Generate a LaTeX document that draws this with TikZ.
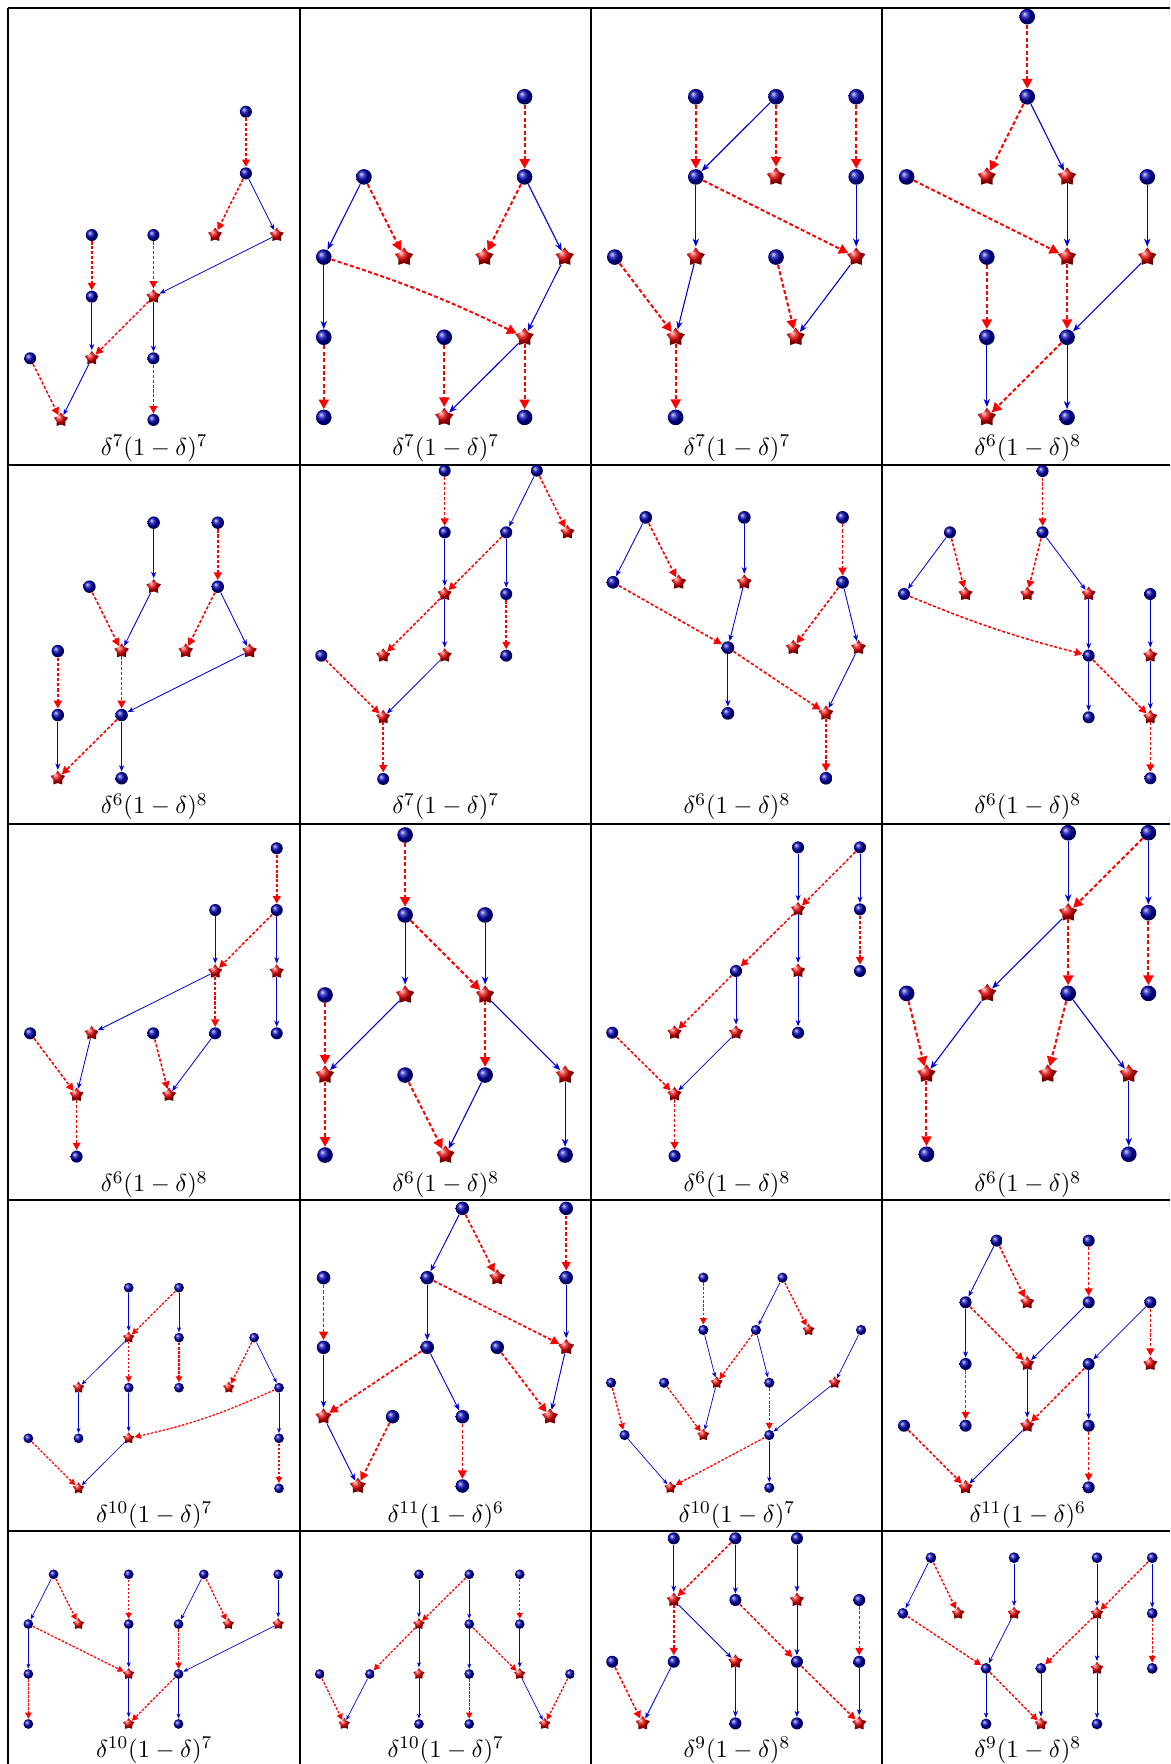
\documentclass[tikz,border=0pt]{standalone}
\usetikzlibrary{shapes.geometric,arrows.meta}
\tikzset{
  cell/.code={%
    \pgfmathsetlengthmacro\balld{0.39*#1*0.5pt}%
    \pgfmathsetlengthmacro\stard{0.48*#1*0.5pt}%
    \pgfmathsetlengthmacro\rlw{0.05*#1*0.5pt}%
    \pgfmathsetlengthmacro\blw{0.027*#1*0.5pt}%
    \pgfmathsetlengthmacro\don{0.10*#1*0.5pt}%
    \pgfmathsetlengthmacro\doff{0.06*#1*0.5pt}%
    \pgfmathsetlengthmacro\rtl{0.24*#1*0.5pt}%
    \pgfmathsetlengthmacro\rtw{0.25*#1*0.5pt}%
    \pgfmathsetlengthmacro\btl{0.2*#1*0.5pt}%
    \pgfmathsetlengthmacro\btw{0.16*#1*0.5pt}%
    \pgfmathsetlengthmacro\bti{0.06*#1*0.5pt}%
  },
  ball/.style={circle, inner sep=0pt, minimum size=\balld, ball color=blue!70!black},
  starn/.style={star, star points=5, star point ratio=1.6, inner sep=0pt, minimum size=\stard, ball color=red!90!black},
  rd/.style={draw=red, line width=\rlw, dash pattern=on \don off \doff, -{Triangle[length=\rtl, width=\rtw]}},
  bl/.style={draw=blue!85!black, line width=\blw, -{Stealth[length=\btl, width=\btw, inset=\bti]}},
  grid/.style={line width=0.9pt, black},
  lab/.style={anchor=base, inner sep=0pt, font=\fontsize{11}{13}\selectfont},
}
\newcommand\bnode[3]{\node[ball] (#1) at (#2,#3) {};}
\newcommand\snode[3]{\node[starn] (#1) at (#2,#3) {};}
\newcommand\redge[2]{\draw[rd] (#1) -- (#2);}
\newcommand\bedge[2]{\draw[bl] (#1) -- (#2);}
\newcommand\tlab[5]{\node[lab] (#1) at (#2,#3) {$\delta^{#4}(1-\delta)^{#5}$};}
\begin{document}
\begin{tikzpicture}[x=0.5pt,y=-0.5pt]
\useasboundingbox (0,0) rectangle (1040,1568);
% grid
\draw[grid] (7.4,7.1) -- (1040,7.1);
\draw[grid] (7.4,7.1) -- (7.4,1568);
\draw[grid] (266.8,7.1) -- (266.8,1568);
\draw[grid] (525.5,7.1) -- (525.5,1568);
\draw[grid] (784.4,7.1) -- (784.4,1568);
\draw[grid] (7.4,412.9) -- (1040,412.9);
\draw[grid] (7.4,732.4) -- (1040,732.4);
\draw[grid] (7.4,1066.7) -- (1040,1066.7);
\draw[grid] (7.4,1360.9) -- (1040,1360.9);
% labels
\tlab{t11}{137.1}{405}{7}{7}
\tlab{t12}{396.2}{405}{7}{7}
\tlab{t13}{655}{405}{7}{7}
\tlab{t14}{913.5}{405}{6}{8}
\tlab{t21}{137.1}{723.5}{6}{8}
\tlab{t22}{396.2}{723.5}{7}{7}
\tlab{t23}{655}{723.5}{6}{8}
\tlab{t24}{913.5}{723.5}{6}{8}
\tlab{t31}{137.1}{1059.5}{6}{8}
\tlab{t32}{396.2}{1059.5}{6}{8}
\tlab{t33}{655}{1059.5}{6}{8}
\tlab{t34}{913.5}{1059.5}{6}{8}
\tlab{t41}{137.1}{1353}{10}{7}
\tlab{t42}{396.2}{1353}{11}{6}
\tlab{t43}{655}{1353}{10}{7}
\tlab{t44}{913.5}{1353}{11}{6}
\tlab{t51}{137.1}{1562}{10}{7}
\tlab{t52}{396.2}{1562}{10}{7}
\tlab{t53}{655}{1562}{9}{8}
\tlab{t54}{913.5}{1562}{9}{8}
% cell 1,1
\begin{scope}[cell=27.4]
\bnode{a}{218.6}{99.3}\bnode{b}{218.6}{154.1}\snode{c}{191.2}{208.9}\snode{d}{246}{208.9}
\bnode{e}{81.6}{208.9}\bnode{f}{136.4}{208.9}\bnode{g}{81.6}{263.7}\snode{h}{136.4}{263.7}
\bnode{i}{26.8}{318.5}\snode{j}{81.6}{318.5}\bnode{k}{136.4}{318.5}\snode{l}{54.2}{373.3}
\bnode{m}{136.4}{373.3}
\redge{a}{b}\redge{b}{c}\bedge{b}{d}\bedge{d}{h}\redge{e}{g}\redge{f}{h}
\bedge{g}{j}\redge{h}{j}\bedge{h}{k}\redge{k}{m}\redge{i}{l}\bedge{j}{l}
\end{scope}
% cell 1,2
\begin{scope}[cell=35.55]
\bnode{a}{466.3}{86}\bnode{b}{323.5}{157.25}\bnode{c}{466.3}{157.25}\bnode{d}{287.8}{228.5}
\snode{e}{359.2}{228.5}\snode{f}{430.6}{228.5}\snode{g}{502}{228.5}\bnode{h}{287.8}{299.75}
\bnode{k}{394.9}{299.75}\snode{l}{466.3}{299.75}\bnode{m}{287.8}{371}\snode{n}{394.9}{371}
\bnode{o}{466.3}{371}
\redge{a}{c}\bedge{b}{d}\redge{b}{e}\redge{c}{f}\bedge{c}{g}\bedge{d}{h}
\draw[rd] (d) to[bend left=4] (l);
\bedge{g}{l}\redge{h}{m}\redge{k}{n}\bedge{l}{n}\redge{l}{o}
\end{scope}
% cell 1,3
\begin{scope}[cell=35.65]
\bnode{a}{618.5}{86}\bnode{b}{689.8}{86}\bnode{c}{761.1}{86}\bnode{d}{618.5}{157.25}
\snode{e}{689.8}{157.25}\bnode{f}{761.1}{157.25}\bnode{g}{546.5}{228.5}\snode{h}{618.5}{228.5}
\bnode{k}{689.8}{228.5}\snode{l}{761.1}{228.5}\snode{m}{600.6}{299.75}\snode{n}{707.4}{299.75}
\bnode{o}{600.6}{371}
\redge{a}{d}\bedge{b}{d}\redge{b}{e}\redge{c}{f}\bedge{d}{h}\redge{d}{l}
\bedge{f}{l}\redge{g}{m}\bedge{h}{m}\redge{k}{n}\bedge{l}{n}\redge{m}{o}
\end{scope}
% cell 1,4
\begin{scope}[cell=35.65]
\bnode{a}{913.1}{14.8}\bnode{b}{913.1}{86}\snode{c}{877.2}{157.25}\snode{d}{948.5}{157.25}
\bnode{e}{805.9}{157.25}\bnode{f}{1019.8}{157.25}\bnode{g}{877.2}{228.5}\snode{h}{948.5}{228.5}
\snode{k}{1019.8}{228.5}\bnode{l}{877.2}{299.75}\bnode{m}{948.5}{299.75}\snode{n}{877.2}{371}
\bnode{o}{948.5}{371}
\redge{a}{b}\redge{b}{c}\bedge{b}{d}\bedge{d}{h}\redge{e}{h}\bedge{f}{k}
\redge{g}{l}\redge{h}{m}\bedge{k}{m}\bedge{l}{n}\redge{m}{n}\bedge{m}{o}
\end{scope}
% cell 2,1
\begin{scope}[cell=28.4]
\bnode{a}{136.6}{464.6}\bnode{b}{193.6}{464.6}\bnode{c}{79.5}{521.5}\snode{d}{136.6}{521.5}
\bnode{e}{193.6}{521.5}\bnode{f}{51.4}{578.7}\snode{g}{108.1}{578.7}\snode{h}{165.1}{578.7}
\snode{k}{221.8}{578.7}\bnode{l}{51.4}{635.6}\bnode{m}{108.1}{635.6}\snode{n}{51.4}{691.8}
\bnode{o}{108.1}{691.8}
\bedge{a}{d}\redge{b}{e}\redge{c}{g}\bedge{d}{g}\redge{e}{h}\bedge{e}{k}
\redge{f}{l}\redge{g}{m}\bedge{k}{m}\bedge{l}{n}\redge{m}{n}\bedge{m}{o}
\end{scope}
% cell 2,2
\begin{scope}[cell=27.4]
\bnode{a}{395.3}{418.4}\bnode{b}{477.2}{418.4}\bnode{c}{395.3}{473.2}\bnode{d}{450}{473.2}
\snode{e}{504.4}{473.2}\snode{f}{395.3}{528}\bnode{g}{450}{528}\bnode{h}{285.6}{582.8}
\snode{k}{340.6}{582.8}\snode{l}{395.3}{582.8}\bnode{m}{450}{582.8}\snode{n}{340.6}{637.6}
\bnode{o}{340.6}{692.4}
\redge{a}{c}\bedge{b}{d}\redge{b}{e}\bedge{c}{f}\redge{d}{f}\bedge{d}{g}
\redge{f}{k}\bedge{f}{l}\redge{g}{m}\redge{h}{n}\bedge{l}{n}\redge{n}{o}
\end{scope}
% cell 2,3
\begin{scope}[cell=29]
\bnode{a}{574}{459.9}\bnode{b}{661.6}{459.9}\bnode{c}{748.9}{459.9}\bnode{d}{544.9}{517.6}
\snode{e}{603.3}{517.6}\snode{f}{661.6}{517.6}\bnode{g}{748.9}{517.6}\bnode{h}{647}{575.7}
\snode{k}{705.1}{575.7}\snode{l}{763.1}{575.7}\bnode{m}{647}{634.1}\snode{n}{734.2}{634.1}
\bnode{o}{734.2}{691.8}
\bedge{a}{d}\redge{a}{e}\bedge{b}{f}\redge{c}{g}\redge{d}{h}\bedge{f}{h}
\redge{g}{k}\bedge{g}{l}\bedge{h}{m}\redge{h}{n}\bedge{l}{n}\redge{n}{o}
\end{scope}
% cell 2,4
\begin{scope}[cell=27.4]
\bnode{a}{926.7}{418.7}\bnode{b}{844.4}{473.2}\bnode{c}{926.7}{473.2}\bnode{d}{803.6}{528}
\snode{e}{858.3}{528}\snode{f}{913.1}{528}\snode{g}{967.7}{528}\bnode{h}{1022.5}{528}
\bnode{k}{967.7}{582.8}\snode{l}{1022.5}{582.8}\bnode{m}{967.7}{637.6}\snode{n}{1022.5}{637.6}
\bnode{o}{1022.5}{691.8}
\redge{a}{c}\bedge{b}{d}\redge{b}{e}\redge{c}{f}\bedge{c}{g}
\draw[rd] (d) to[bend right=4] (k);
\bedge{g}{k}\bedge{h}{l}\bedge{k}{m}\redge{k}{n}\bedge{l}{n}\redge{n}{o}
\end{scope}
% cell 3,1
\begin{scope}[cell=27.4]
\bnode{a}{246}{754}\bnode{b}{191.3}{808.9}\bnode{c}{246}{808.9}\snode{d}{191.3}{863.7}
\snode{e}{246}{863.7}\bnode{f}{26.8}{918.5}\snode{g}{81.5}{918.5}\bnode{h}{136.2}{918.5}
\bnode{k}{191.3}{918.5}\bnode{l}{246}{918.5}\snode{m}{68.1}{973.3}\snode{n}{150.3}{973.3}
\bnode{o}{68.1}{1028.1}
\redge{a}{c}\bedge{b}{d}\redge{c}{d}\bedge{c}{e}\bedge{d}{g}\redge{d}{k}
\bedge{e}{l}\redge{f}{m}\bedge{g}{m}\redge{h}{n}\bedge{k}{n}\redge{m}{o}
\end{scope}
% cell 3,2
\begin{scope}[cell=35.6]
\bnode{a}{360.1}{742.2}\bnode{b}{360.1}{813.3}\bnode{c}{431.2}{813.3}\bnode{d}{288.9}{884.4}
\snode{e}{360.1}{884.4}\snode{f}{431.2}{884.4}\snode{g}{288.9}{955.6}\bnode{h}{360.1}{955.6}
\bnode{k}{431.2}{955.6}\snode{l}{502.3}{955.6}\bnode{m}{288.9}{1026.7}\snode{n}{396}{1026.7}
\bnode{o}{502.3}{1026.7}
\redge{a}{b}\bedge{b}{e}\redge{b}{f}\bedge{c}{f}\redge{d}{g}\bedge{e}{g}
\redge{f}{k}\bedge{f}{l}\redge{g}{m}\redge{h}{n}\bedge{k}{n}\bedge{l}{o}
\end{scope}
% cell 3,3
\begin{scope}[cell=27.5]
\bnode{a}{709.4}{753.2}\bnode{b}{764.4}{753.2}\snode{c}{709.4}{808.3}\bnode{d}{764.4}{808.3}
\bnode{e}{654.3}{863.1}\snode{f}{709.4}{863.1}\bnode{g}{764.4}{863.1}\bnode{h}{544.2}{918}
\snode{k}{599.6}{918}\snode{l}{654.3}{918}\bnode{m}{709.4}{918}\snode{n}{599.6}{972.7}
\bnode{o}{599.6}{1027.6}
\bedge{a}{c}\redge{b}{c}\bedge{b}{d}\redge{c}{e}\bedge{c}{f}\redge{d}{g}
\redge{e}{k}\bedge{e}{l}\bedge{f}{m}\redge{h}{n}\bedge{l}{n}\redge{n}{o}
\end{scope}
% cell 3,4
\begin{scope}[cell=35.7]
\bnode{a}{949.5}{740.2}\bnode{b}{1020.8}{740.2}\snode{c}{949.5}{811.3}\bnode{d}{1020.8}{811.3}
\bnode{e}{805.9}{883}\snode{f}{877.5}{883}\bnode{g}{949.5}{883}\bnode{h}{1020.8}{883}
\snode{k}{823.5}{954.7}\snode{l}{931.3}{954.7}\snode{m}{1003.3}{954.7}\bnode{n}{823.5}{1026}
\bnode{o}{1003.3}{1026}
\bedge{a}{c}\redge{b}{c}\bedge{b}{d}\bedge{c}{f}\redge{c}{g}\redge{d}{h}
\redge{e}{k}\bedge{f}{k}\redge{g}{l}\bedge{g}{m}\redge{k}{n}\bedge{m}{o}
\end{scope}
% cell 4,1
\begin{scope}[cell=22.3]
\bnode{a}{114.4}{1144.6}\bnode{b}{159.1}{1144.6}\snode{c}{114.4}{1189}\bnode{d}{159.1}{1189}
\bnode{e}{225.9}{1189}\snode{f}{69.8}{1233.5}\bnode{g}{114.4}{1233.5}\bnode{h}{159.1}{1233.5}
\snode{k}{203.4}{1233.5}\bnode{l}{248}{1233.5}\bnode{m}{25.2}{1278.5}\bnode{n}{69.8}{1278.5}
\snode{o}{114.4}{1278.5}\bnode{p}{248}{1278.5}\snode{q}{69.8}{1323}\bnode{r}{248}{1323}
\bedge{a}{c}\redge{b}{c}\bedge{b}{d}\bedge{c}{f}\redge{c}{g}\redge{d}{h}
\redge{e}{k}\bedge{e}{l}\bedge{f}{n}\bedge{g}{o}
\draw[rd] (l) to[bend left=6] (o);
\redge{m}{q}\bedge{o}{q}\bedge{l}{p}\redge{p}{r}
\end{scope}
% cell 4,2
\begin{scope}[cell=30.9]
\bnode{a}{411}{1074.1}\bnode{b}{503.3}{1074.1}\bnode{c}{287.6}{1135.7}\bnode{d}{379.8}{1135.7}
\snode{e}{442}{1135.7}\bnode{f}{503.3}{1135.7}\bnode{g}{287.6}{1197.6}\bnode{h}{379.8}{1197.6}
\bnode{k}{442}{1197.6}\snode{l}{503.3}{1197.6}\snode{m}{287.6}{1259.3}\bnode{n}{349}{1259.3}
\bnode{o}{411}{1259.3}\snode{p}{488.9}{1259.3}\snode{q}{318.1}{1320.9}\bnode{r}{411}{1320.9}
\bedge{a}{d}\redge{a}{e}\redge{b}{f}\redge{c}{g}\bedge{d}{h}\redge{d}{l}
\bedge{f}{l}\bedge{g}{m}\redge{h}{m}\bedge{h}{o}\redge{k}{p}\bedge{l}{p}
\bedge{m}{q}\redge{n}{q}\redge{o}{r}
\end{scope}
% cell 4,3
\begin{scope}[cell=23.3]
\bnode{a}{625.2}{1135.7}\bnode{b}{695.5}{1135.7}\bnode{c}{625.2}{1182.2}\bnode{d}{671.9}{1182.2}
\snode{e}{718.7}{1182.2}\bnode{f}{765.4}{1182.2}\bnode{g}{543.2}{1229.1}\bnode{h}{590.3}{1229.1}
\snode{k}{637.1}{1229.1}\bnode{l}{683.8}{1229.1}\snode{m}{741.9}{1229.1}\bnode{n}{555.2}{1275.6}
\snode{o}{625.2}{1275.6}\bnode{p}{683.8}{1275.6}\snode{q}{595.9}{1322.4}\bnode{r}{683.8}{1322.4}
\redge{a}{c}\bedge{b}{d}\redge{b}{e}\bedge{c}{k}\redge{d}{k}\bedge{d}{l}
\bedge{f}{m}\redge{g}{n}\redge{h}{o}\bedge{k}{o}\redge{l}{p}\bedge{m}{p}
\bedge{n}{q}\redge{p}{q}\bedge{p}{r}
\end{scope}
% cell 4,4
\begin{scope}[cell=27.4]
\bnode{a}{885.9}{1102.8}\bnode{b}{967.7}{1102.8}\bnode{c}{858.3}{1157.6}\snode{d}{913.1}{1157.6}
\bnode{e}{967.7}{1157.6}\bnode{f}{1022.5}{1157.6}\bnode{g}{858.3}{1212.4}\snode{h}{913.1}{1212.4}
\bnode{k}{967.7}{1212.4}\snode{l}{1022.5}{1212.4}\bnode{m}{803.6}{1267.3}\bnode{n}{858.3}{1267.3}
\snode{o}{913.1}{1267.3}\bnode{p}{967.7}{1267.3}\snode{q}{858.3}{1322.1}\bnode{r}{967.7}{1322.1}
\bedge{a}{c}\redge{a}{d}\redge{b}{e}\bedge{c}{g}\redge{c}{h}\bedge{e}{h}
\bedge{f}{k}\redge{f}{l}\redge{g}{n}\bedge{h}{o}\redge{k}{o}\bedge{k}{p}
\redge{m}{q}\bedge{o}{q}\redge{p}{r}
\end{scope}
% cell 5,1
\begin{scope}[cell=22.2]
\bnode{a}{47.6}{1399.4}\bnode{b}{114.4}{1399.4}\bnode{c}{181.2}{1399.4}\bnode{d}{247.3}{1399.4}
\bnode{e}{25.2}{1443.6}\snode{f}{69.8}{1443.6}\bnode{g}{114.4}{1443.6}\bnode{h}{158.7}{1443.6}
\snode{k}{203}{1443.6}\snode{l}{247.3}{1443.6}\bnode{m}{25.2}{1488}\snode{n}{114.4}{1488}
\bnode{o}{158.7}{1488}\bnode{p}{25.2}{1532.4}\snode{q}{114.4}{1532.4}\bnode{r}{158.7}{1532.4}
\bedge{a}{e}\redge{a}{f}\redge{b}{g}\bedge{c}{h}\redge{c}{k}\bedge{d}{l}
\bedge{e}{m}\redge{e}{n}\bedge{g}{n}\redge{h}{o}\bedge{l}{o}\redge{m}{p}
\bedge{n}{q}\redge{o}{q}\bedge{o}{r}
\end{scope}
% cell 5,2
\begin{scope}[cell=22.2]
\bnode{a}{372.4}{1399.4}\bnode{b}{417.1}{1399.4}\bnode{c}{462}{1399.4}\snode{d}{372.4}{1443.6}
\bnode{e}{417.1}{1443.6}\bnode{f}{462}{1443.6}\bnode{g}{284.2}{1488}\bnode{h}{328.8}{1488}
\snode{k}{372.4}{1488}\bnode{l}{417.1}{1488}\snode{m}{462}{1488}\bnode{n}{506.7}{1488}
\snode{o}{306}{1532.4}\bnode{p}{372.4}{1532.4}\bnode{q}{417.1}{1532.4}\snode{r}{484.2}{1532.4}
\bedge{a}{d}\redge{b}{d}\bedge{b}{e}\redge{c}{f}\redge{d}{h}\bedge{d}{k}
\bedge{e}{l}\redge{e}{m}\bedge{f}{m}\redge{g}{o}\bedge{h}{o}\bedge{k}{p}
\redge{l}{q}\bedge{m}{r}\redge{n}{r}
\end{scope}
% cell 5,3
\begin{scope}[cell=27.4]
\bnode{a}{598.9}{1367.4}\bnode{b}{653.7}{1367.4}\bnode{c}{708.4}{1367.4}\snode{d}{598.9}{1422.2}
\bnode{e}{653.7}{1422.2}\snode{f}{708.4}{1422.2}\bnode{g}{763.8}{1422.2}\bnode{h}{544.2}{1477.1}
\bnode{k}{598.9}{1477.1}\snode{l}{653.7}{1477.1}\bnode{m}{708.4}{1477.1}\bnode{n}{763.8}{1477.1}
\snode{o}{571.4}{1531.9}\bnode{p}{653.7}{1531.9}\bnode{q}{708.4}{1531.9}\snode{r}{763.8}{1531.9}
\bedge{a}{d}\redge{b}{d}\bedge{b}{e}\bedge{c}{f}\redge{d}{k}\bedge{d}{l}
\redge{e}{m}\bedge{f}{m}\redge{g}{n}\redge{h}{o}\bedge{k}{o}\bedge{l}{p}
\bedge{m}{q}\redge{m}{r}\bedge{n}{r}
\end{scope}
% cell 5,4
\begin{scope}[cell=24.6]
\bnode{a}{827.5}{1384.6}\bnode{b}{901.4}{1384.6}\bnode{c}{975.1}{1384.6}\bnode{d}{1024.2}{1384.6}
\bnode{e}{802.6}{1434.1}\snode{f}{851.7}{1434.1}\snode{g}{901.4}{1434.1}\snode{h}{975.1}{1434.1}
\bnode{k}{1024.2}{1434.1}\bnode{l}{876.5}{1483}\bnode{m}{925.3}{1483}\snode{n}{975.1}{1483}
\bnode{o}{1024.2}{1483}\bnode{p}{876.5}{1532.4}\snode{q}{925.3}{1532.4}\bnode{r}{975.1}{1532.4}
\bedge{a}{e}\redge{a}{f}\bedge{b}{g}\bedge{c}{h}\redge{d}{h}\bedge{d}{k}
\redge{e}{l}\bedge{g}{l}\redge{h}{m}\bedge{h}{n}\redge{k}{o}\bedge{l}{p}
\redge{l}{q}\bedge{m}{q}\bedge{n}{r}
\end{scope}
\end{tikzpicture}
\end{document}
